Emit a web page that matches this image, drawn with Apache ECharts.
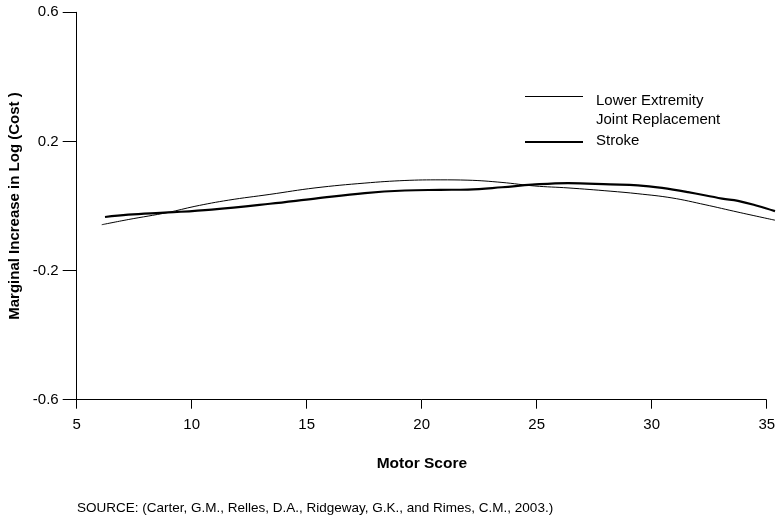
<!DOCTYPE html>
<html>
<head>
<meta charset="utf-8">
<script src="https://cdn.jsdelivr.net/npm/echarts@6/dist/echarts.min.js"></script>
<style>html,body{margin:0;padding:0;background:#fff}#c{width:783px;height:520px}</style>
</head>
<body>
<div id="c"></div>
<script>
// Lower Extremity Joint Replacement (thin line)
var lejrX = [6.09, 7.24, 8.97, 10.14, 11.59, 13.40, 15.36, 17.53, 19.27, 20.80, 22.01, 23.49, 24.92, 26.36, 28.19, 29.40, 30.88, 32.32, 33.75, 35.36];
var lejrY = [-0.058, -0.042, -0.020, -0.001, 0.018, 0.036, 0.056, 0.071, 0.079, 0.081, 0.080, 0.073, 0.062, 0.056, 0.046, 0.038, 0.025, 0.004, -0.019, -0.044];
// Stroke (thick line)
var strokeX = [6.23, 7.24, 8.98, 10.87, 13.40, 15.36, 17.53, 19.27, 20.80, 22.01, 23.49, 24.80, 26.36, 28.19, 29.40, 30.45, 31.58, 33.06, 33.75, 34.62, 35.36];
var strokeY = [-0.034, -0.027, -0.020, -0.011, 0.007, 0.023, 0.040, 0.048, 0.050, 0.051, 0.058, 0.066, 0.071, 0.067, 0.064, 0.056, 0.043, 0.023, 0.016, 0.000, -0.016];
var yTicks = [-0.6, -0.2, 0.2, 0.6];
var xTicks = [5, 10, 15, 20, 25, 30, 35];
var xMin = 5, xAxisEnd = 35, xDataMax = 35.36;
var yMin = -0.6, yMax = 0.6;
var legendNames = ['Lower Extremity\nJoint Replacement', 'Stroke'];
var xTitle = 'Motor Score';
var yTitle = 'Marginal Increase in Log (Cost )';
var sourceText = 'SOURCE: (Carter, G.M., Relles, D.A., Ridgeway, G.K., and Rimes, C.M., 2003.)';

function pairs(xs, ys) { return xs.map(function (x, i) { return [x, ys[i]]; }); }

var FONT = '"Liberation Sans", Arial, Helvetica, sans-serif';
var chart = echarts.init(document.getElementById('c'), null, {renderer: 'canvas'});
chart.setOption({
  animation: false,
  backgroundColor: '#fff',
  grid: {left: 76.7, right: 8, top: 12.3, bottom: 120.3, containLabel: false, outerBoundsMode: 'none'},
  xAxis: {
    type: 'value', min: xMin, max: xDataMax,
    name: xTitle, nameLocation: 'middle', nameGap: 56,
    nameTextStyle: {fontFamily: FONT, fontWeight: 'bold', fontSize: 15.5, color: '#000', verticalAlign: 'top',
      padding: [0, 8, 0, 0]},
    axisLine: {show: false, onZero: false},
    axisTick: {show: true, length: 9, lineStyle: {color: '#000'}, customValues: xTicks},
    axisLabel: {fontFamily: FONT, fontSize: 15, color: '#000', margin: 18, customValues: xTicks},
    splitLine: {show: false}
  },
  yAxis: {
    type: 'value', min: yMin, max: yMax,
    name: yTitle, nameLocation: 'middle', nameGap: 54, nameRotate: 90,
    nameTextStyle: {fontFamily: FONT, fontWeight: 'bold', fontSize: 15, color: '#000'},
    axisLine: {show: true, onZero: false, lineStyle: {color: '#000', width: 1}},
    axisTick: {show: true, length: 14, lineStyle: {color: '#000'}, customValues: yTicks},
    axisLabel: {fontFamily: FONT, fontSize: 15, color: '#000', margin: 18, customValues: yTicks,
      formatter: function (v) { return (Math.round(v * 10) / 10).toFixed(1); }},
    splitLine: {show: false}
  },
  series: [
    {name: legendNames[0], type: 'line', data: pairs(lejrX, lejrY), smooth: 0.4, showSymbol: false,
     lineStyle: {color: '#000', width: 1},
     markLine: {silent: true, symbol: ['none', 'none'], label: {show: false},
       lineStyle: {color: '#000', width: 1, type: 'solid'},
       data: [[{coord: [xMin, yMin]}, {coord: [xAxisEnd, yMin]}]]}},
    {name: legendNames[1], type: 'line', data: pairs(strokeX, strokeY), smooth: 0.4, showSymbol: false,
     lineStyle: {color: '#000', width: 2.2}}
  ],
  graphic: [
    {type: 'line', shape: {x1: 525, y1: 96.5, x2: 583, y2: 96.5}, style: {stroke: '#000', lineWidth: 1}},
    {type: 'text', left: 596, top: 91, style: {text: legendNames[0], font: '15px ' + FONT, fill: '#000', lineHeight: 19}},
    {type: 'line', shape: {x1: 525, y1: 142, x2: 583, y2: 142}, style: {stroke: '#000', lineWidth: 2.2}},
    {type: 'text', left: 596, top: 133, style: {text: legendNames[1], font: '15px ' + FONT, fill: '#000'}},
    {type: 'text', left: 77, top: 501, style: {text: sourceText, font: '13.5px ' + FONT, fill: '#000'}}
  ]
});
</script>
</body>
</html>
